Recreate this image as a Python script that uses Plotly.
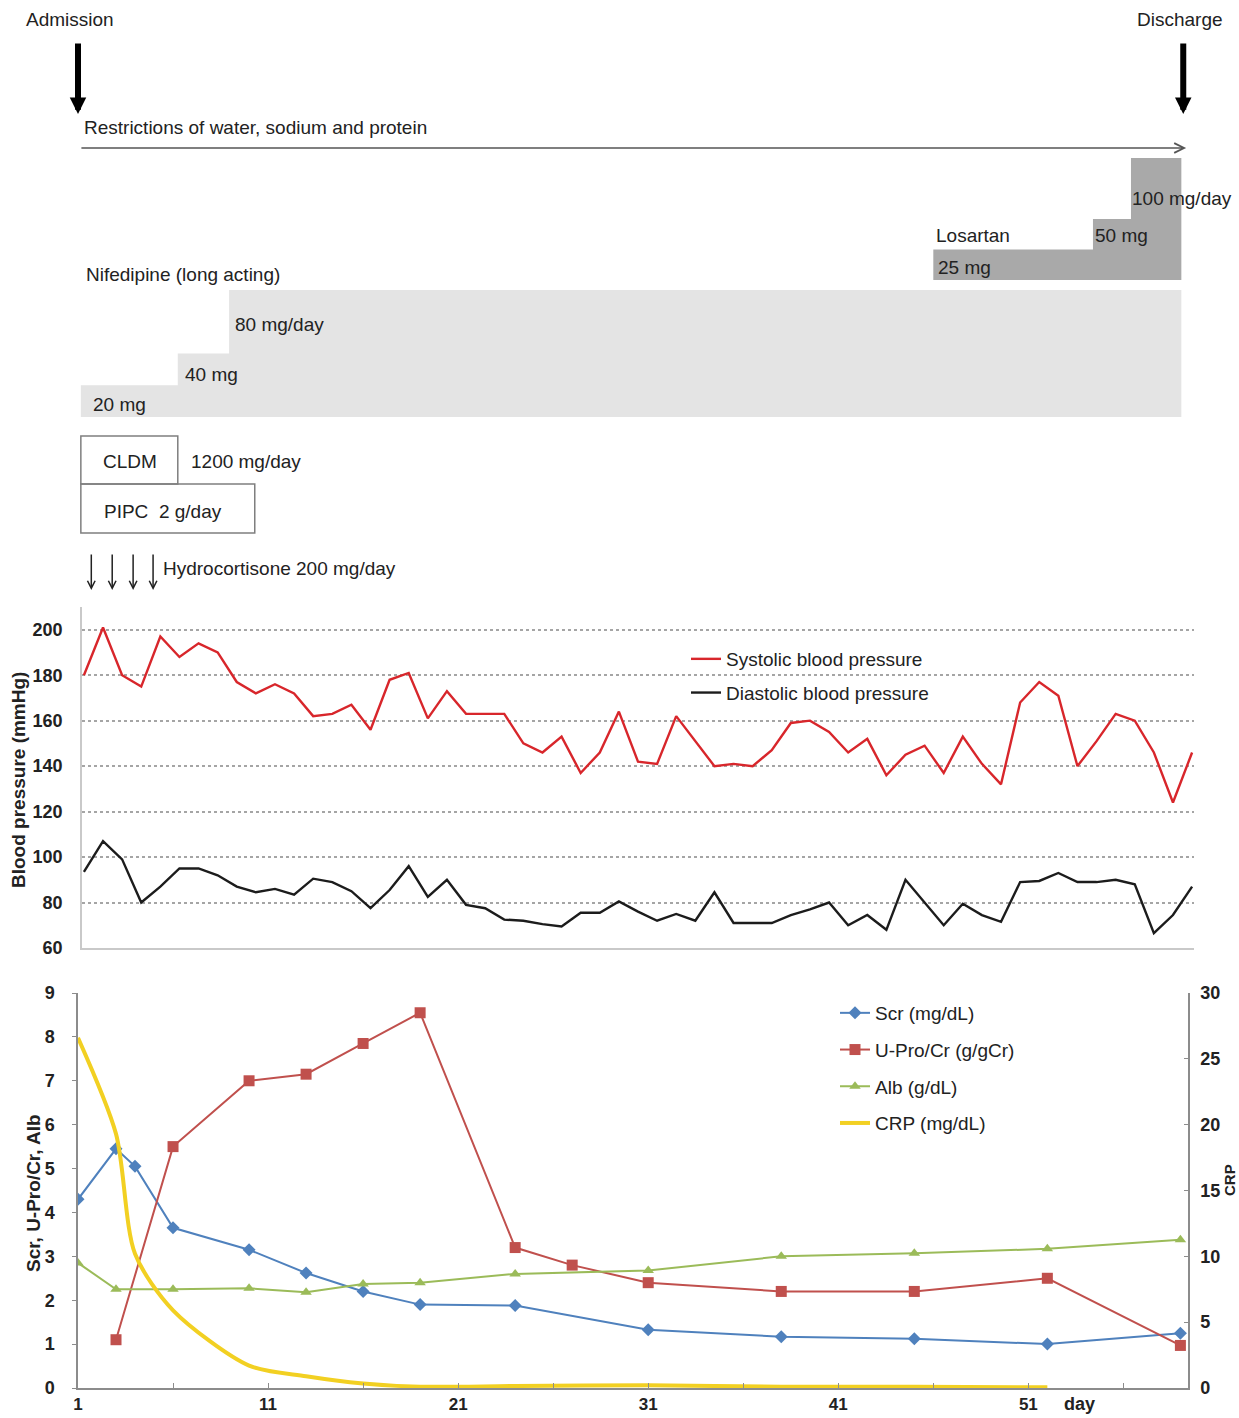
import plotly.graph_objects as go

W, H = 1239, 1418
FONT = "Liberation Sans, Arial, sans-serif"

# ---------------- data ----------------
bp_days = list(range(1, 60))
systolic = [180, 201, 180, 175, 197, 188, 194, 190, 177, 172, 176, 172, 162, 163, 167,
            156, 178, 181, 161, 173, 163, 163, 163, 150, 146, 153, 137, 146, 164, 142,
            141, 162, 151, 140, 141, 140, 147, 159, 160, 155, 146, 152, 136, 145, 149,
            137, 153, 141, 132, 168, 177, 171, 140, 151, 163, 160, 146, 124, 146]
diastolic = [93.5, 107, 99, 80, 87, 95, 95, 92, 87, 84.5, 86, 83.5, 90.5, 89, 85,
             77.5, 85.5, 96, 82.5, 90, 79, 77.5, 72.5, 72, 70.5, 69.5, 75.5, 75.5, 80.5, 76,
             72, 75, 72, 84.5, 71, 71, 71, 74.5, 77, 80, 70, 74.5, 68, 90, 80,
             70, 79.5, 74.5, 71.5, 89, 89.5, 93, 89, 89, 90, 88, 66.5, 74.5, 87]

scr_days = [1, 3, 4, 6, 10, 13, 16, 19, 24, 31, 38, 45, 52, 59]
scr = [4.3, 5.45, 5.05, 3.65, 3.15, 2.62, 2.2, 1.9, 1.88, 1.33, 1.17, 1.12, 1.0, 1.25]
upro_days = [3, 6, 10, 13, 16, 19, 24, 27, 31, 38, 45, 52, 59]
upro = [1.1, 5.5, 7.0, 7.15, 7.85, 8.55, 3.2, 2.8, 2.4, 2.2, 2.2, 2.5, 0.97]
alb_days = [1, 3, 6, 10, 13, 16, 19, 24, 31, 38, 45, 52, 59]
alb = [2.85, 2.25, 2.25, 2.27, 2.18, 2.37, 2.4, 2.6, 2.68, 3.0, 3.07, 3.17, 3.38]
crp_days = [1, 3, 4, 6, 10, 13, 16, 19, 24, 31, 38, 45, 52]
crp = [26.6, 19.3, 10.2, 5.9, 1.7, 0.9, 0.35, 0.1, 0.15, 0.2, 0.1, 0.1, 0.05]

day_ticks = [1, 11, 21, 31, 41, 51]
day_minor = [6, 16, 26, 36, 46, 56]

# treatment timeline (day positions)
admission_day, discharge_day = 1, 59.15
restriction_days = (1.1, 59.3)
nif_change_days = [1.15, 6.25, 8.95]
nif_doses = [20, 40, 80]
nif_end = 59.05
los_change_days = [46, 54.4, 56.4]
los_doses = [25, 50, 100]
los_end = 59.05
cldm_days = (1.15, 6.25)
pipc_days = (1.15, 10.3)
hydro_days = [1.7, 2.8, 3.9, 4.95]


def px(x):
    return x / W


def py(y):
    return 1 - y / H


fig = go.Figure()

# ---- blood pressure panel ----
fig.add_trace(go.Scatter(x=bp_days, y=systolic, mode="lines", name="Systolic blood pressure",
                         line=dict(color="#d8262b", width=2.4), xaxis="x", yaxis="y",
                         legend="legend", legendgroup="sbp"))
fig.add_trace(go.Scatter(x=bp_days, y=diastolic, mode="lines", name="Diastolic blood pressure",
                         line=dict(color="#1c1c1c", width=2.4), xaxis="x", yaxis="y",
                         legend="legend", legendgroup="dbp"))

# ---- laboratory panel ----
fig.add_trace(go.Scatter(x=scr_days, y=scr, mode="lines+markers", name="Scr (mg/dL)",
                         line=dict(color="#4f81bd", width=2),
                         marker=dict(symbol="diamond", size=10, color="#4f81bd"),
                         xaxis="x2", yaxis="y2", legend="legend2", legendgroup="a"))
fig.add_trace(go.Scatter(x=upro_days, y=upro, mode="lines+markers", name="U-Pro/Cr (g/gCr)",
                         line=dict(color="#c0504d", width=2),
                         marker=dict(symbol="square", size=11, color="#c0504d"),
                         xaxis="x2", yaxis="y2", legend="legend2", legendgroup="b"))
fig.add_trace(go.Scatter(x=alb_days, y=alb, mode="lines+markers", name="Alb (g/dL)",
                         line=dict(color="#9bbb59", width=2),
                         marker=dict(symbol="triangle-up", size=10, color="#9bbb59"),
                         xaxis="x2", yaxis="y2", legend="legend2", legendgroup="c"))
fig.add_trace(go.Scatter(x=crp_days, y=crp, mode="lines", name="CRP (mg/dL)",
                         line=dict(color="#f2d022", width=4, shape="spline", smoothing=0.8),
                         xaxis="x2", yaxis="y3", legend="legend2", legendgroup="d"))

# ---- treatment timeline: dose step areas ----
fig.add_trace(go.Scatter(x=nif_change_days + [nif_end], y=nif_doses + [nif_doses[-1]],
                         mode="lines", line=dict(width=0, shape="hv"), fill="tozeroy",
                         fillcolor="#e4e4e4", showlegend=False, hoverinfo="skip",
                         xaxis="x3", yaxis="y4"))
fig.add_trace(go.Scatter(x=los_change_days + [los_end], y=los_doses + [los_doses[-1]],
                         mode="lines", line=dict(width=0, shape="hv"), fill="tozeroy",
                         fillcolor="#a9a9a9", showlegend=False, hoverinfo="skip",
                         xaxis="x3", yaxis="y5"))

shapes = []
for (d0, d1), (ytop, ybot) in [(cldm_days, (436, 484)), (pipc_days, (484, 533))]:
    shapes.append(dict(type="rect", xref="x3", yref="paper", x0=d0, x1=d1,
                       y0=py(ybot), y1=py(ytop), line=dict(color="#7f7f7f", width=1.5),
                       fillcolor="rgba(0,0,0,0)"))

annotations = []


def label(text, x, y, size=19, anchor="left", bold=False, angle=0, color="#222"):
    annotations.append(dict(text=text, x=px(x), y=py(y), xref="paper", yref="paper",
                            xanchor=anchor, yanchor="middle", showarrow=False,
                            textangle=angle,
                            font=dict(family=FONT, size=size, color=color,
                                      weight=700 if bold else 400)))


def arrow(day, y_tip, length, width, head, size, color="#000", ax_day=None):
    a = dict(text="", x=day, y=py(y_tip), xref="x3", yref="paper", showarrow=True,
             arrowhead=head, arrowsize=size, arrowwidth=width, arrowcolor=color)
    if ax_day is None:
        a.update(ax=0, ay=-length)
    else:
        a.update(ax=ax_day, axref="x3", ay=0)
    annotations.append(a)


label("Admission", 70, 20, anchor="center")
label("Discharge", 1180, 20, anchor="center")
arrow(admission_day, 114, 72, 6, 2, 0.55)
arrow(discharge_day, 114, 72, 6, 2, 0.55)
label("Restrictions of water, sodium and protein", 82, 128)
arrow(restriction_days[1], 148, 0, 1.6, 5, 1.2, color="#555", ax_day=restriction_days[0])
label("100 mg/day", 1130, 198)
label("Losartan", 934, 236)
label("50 mg", 1093, 236)
label("25 mg", 936, 267)
label("Nifedipine (long acting)", 84, 274)
label("80 mg/day", 233, 325)
label("40 mg", 183, 374)
label("20 mg", 91, 404)
label("CLDM", 130, 461, anchor="center")
label("1200 mg/day", 189, 461)
label("PIPC\u00a0\u00a02 g/day", 102, 511)
for d in hydro_days:
    arrow(d, 590, 37, 1.5, 5, 1.0, color="#222")
label("Hydrocortisone 200 mg/day", 161, 568)

# axis titles
label("Blood pressure (mmHg)", 18, 780, size=19, anchor="center", bold=True, angle=-90)
label("Scr, U-Pro/Cr, Alb", 33, 1193, size=19, anchor="center", bold=True, angle=-90)
label("CRP", 1229, 1180, size=15, anchor="center", bold=True, angle=-90)
label("day", 1079, 1404, size=18, anchor="center", bold=True)

tickfont = dict(family=FONT, size=18, color="#222", weight=700)

fig.update_layout(
    width=W, height=H, margin=dict(l=0, r=0, t=0, b=0, autoexpand=False),
    paper_bgcolor="white", plot_bgcolor="rgba(0,0,0,0)",
    font=dict(family=FONT, size=19, color="#222"),
    shapes=shapes, annotations=annotations,
    xaxis=dict(domain=[px(82), px(1194)], range=[0.9, 59.1], anchor="y", automargin=False,
               showticklabels=False, ticks="", showgrid=False, zeroline=False,
               showline=True, linecolor="#c9c9c9", linewidth=1.5),
    yaxis=dict(domain=[py(948), py(607)], range=[60, 210], anchor="x", automargin=False,
               tickvals=list(range(60, 201, 20)), tickfont=tickfont,
               showgrid=True, gridcolor="#a5a5a5", griddash="dot", gridwidth=2,
               zeroline=False, showline=True, linecolor="#c9c9c9", linewidth=1.5,
               ticks="", ticklabelstandoff=14),
    xaxis2=dict(domain=[px(78), px(1188)], range=[1, 59.4], anchor="y2", automargin=False,
                tickvals=day_ticks, ticktext=[str(v) for v in day_ticks],
                tickfont=dict(family=FONT, size=17, color="#222", weight=700),
                ticks="inside", ticklen=5, tickcolor="#8c8c8c",
                minor=dict(tickvals=day_minor, ticks="inside", ticklen=5, tickcolor="#8c8c8c"),
                showgrid=False, zeroline=False, showline=True, linecolor="#8c8c8c",
                linewidth=1.5, ticklabelstandoff=0),
    yaxis2=dict(domain=[py(1388), py(993)], range=[0, 9], anchor="x2", dtick=1,
                automargin=False,
                tickfont=tickfont, ticks="outside", ticklen=4, tickcolor="#8c8c8c",
                showgrid=False, zeroline=False, showline=True, linecolor="#8c8c8c",
                linewidth=1.5, ticklabelstandoff=14),
    yaxis3=dict(range=[0, 30], overlaying="y2", anchor="x2", side="right", dtick=5,
                automargin=False,
                tickfont=tickfont, ticks="inside", ticklen=4, tickcolor="#8c8c8c",
                showgrid=False, zeroline=False, showline=True, linecolor="#8c8c8c",
                linewidth=1.5, ticklabelstandoff=7),
    xaxis3=dict(domain=[px(78), px(1188)], range=[1, 59.4], anchor="y4", visible=False,
                automargin=False),
    yaxis4=dict(domain=[py(417), py(290)], range=[0, 80], anchor="x3", visible=False,
                automargin=False),
    yaxis5=dict(domain=[py(280), py(158)], range=[0, 100], anchor="x3", visible=False,
                automargin=False),
    legend=dict(x=px(686), y=py(640), xanchor="left", yanchor="top",
                bgcolor="rgba(0,0,0,0)", font=dict(family=FONT, size=19, color="#222"),
                tracegroupgap=6),
    legend2=dict(x=px(835), y=py(994), xanchor="left", yanchor="top",
                 bgcolor="rgba(0,0,0,0)", font=dict(family=FONT, size=19, color="#222"),
                 tracegroupgap=9),
)

fig.write_html("out.html")
